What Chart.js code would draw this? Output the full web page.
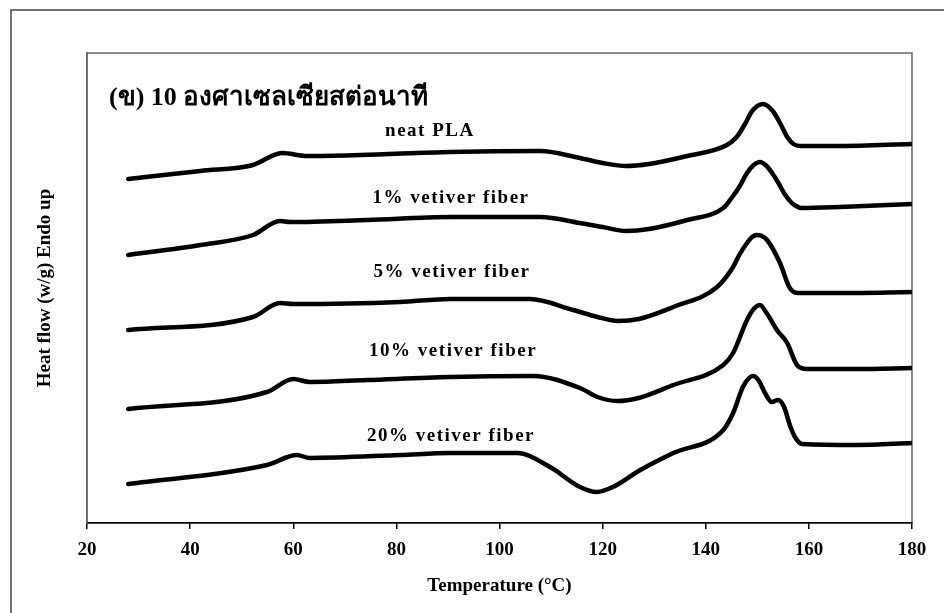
<!DOCTYPE html>
<html>
<head>
<meta charset="utf-8">
<script src="https://cdn.jsdelivr.net/npm/chart.js@4.4.1/dist/chart.umd.min.js"></script>
<style>
  html, body { margin: 0; padding: 0; background: #fff; overflow: hidden; }
  #wrap { position: relative; width: 944px; height: 613px; }
</style>
</head>
<body>
<div id="wrap"><canvas id="dsc" width="944" height="613"></canvas></div>
<script>
// DSC heating scans at 10 °C/min, curves stacked (heat flow in arbitrary offset units)
const tNeat  = [28, 42, 52.2, 57.8, 62.7, 73, 90.4, 107.9, 115.6, 120, 124.5, 129, 136.4, 144.1, 146, 147.5, 149, 151.1, 153, 154.5, 155.8, 157, 158.3, 166, 180];
const hfNeat = [34.4, 35.2, 35.8, 37.0, 36.7, 36.8, 37.1, 37.2, 36.5, 36.0, 35.7, 35.9, 36.7, 37.8, 38.6, 39.8, 41.2, 41.9, 41.2, 39.9, 38.6, 37.9, 37.7, 37.7, 37.9];

const t1  = [28, 42, 52.2, 57.4, 59.4, 74.3, 90.4, 107.9, 115.6, 120, 124.5, 129, 136.4, 143.4, 145, 146.5, 148, 149.3, 150.5, 151.8, 153, 154.2, 155.3, 156.5, 157.5, 158.5, 166, 180];
const hf1 = [26.8, 27.8, 28.8, 30.2, 30.1, 30.3, 30.6, 30.6, 30.0, 29.6, 29.2, 29.4, 30.3, 31.5, 32.5, 33.6, 35.0, 35.8, 36.1, 35.7, 34.9, 33.9, 32.9, 32.1, 31.7, 31.5, 31.6, 31.9];

const t5  = [28, 52.2, 57.4, 60, 80.7, 90.4, 105.9, 114.3, 119, 123, 127, 133.7, 142.2, 145.3, 146.5, 148, 149, 149.9, 150.9, 151.9, 154.4, 156.3, 157.9, 166, 180];
const hf5 = [19.3, 20.6, 22.0, 21.9, 22.1, 22.4, 22.4, 21.3, 20.6, 20.2, 20.4, 21.6, 23.6, 25.6, 26.8, 28.0, 28.6, 28.8, 28.7, 28.3, 26.0, 23.5, 23.0, 23.0, 23.1];

const t10  = [28, 54.9, 60, 63.2, 74.3, 90.4, 106.5, 115.6, 119, 122.8, 127, 133.7, 143.4, 145.3, 148, 149.3, 150.5, 151.8, 153.8, 155.8, 157.7, 159.6, 169.3, 180];
const hf10 = [11.4, 13.1, 14.4, 14.1, 14.3, 14.6, 14.7, 13.5, 12.6, 12.2, 12.5, 13.8, 15.8, 17.0, 20.3, 21.4, 21.8, 21.0, 19.3, 18.0, 15.8, 15.4, 15.4, 15.5];

const t20  = [28, 54.9, 60.7, 63.2, 80.7, 90.4, 103.4, 109.8, 115.6, 118.9, 122, 127.3, 133.7, 143.4, 145.3, 147.2, 148.4, 149.2, 150.2, 151.5, 152.8, 154, 155.2, 156.3, 157.3, 158.7, 169.3, 180];
const hf20 = [3.9, 5.8, 6.8, 6.5, 6.8, 7.0, 7.0, 5.6, 3.6, 3.1, 3.6, 5.3, 7.0, 9.3, 11.0, 13.6, 14.5, 14.7, 14.3, 13.0, 12.1, 12.3, 11.6, 9.8, 8.6, 7.9, 7.8, 8.0];

const curveNames = ['neat PLA', '1% vetiver fiber', '5% vetiver fiber', '10% vetiver fiber', '20% vetiver fiber'];
const xTicks = [20, 40, 60, 80, 100, 120, 140, 160, 180];
const panelTitle = '(ข) 10 องศาเซลเซียสต่อนาที';

const serif = '"Liberation Serif", "Times New Roman", serif';
const series = [[tNeat, hfNeat], [t1, hf1], [t5, hf5], [t10, hf10], [t20, hf20]];

const datasets = series.map(([t, hf], i) => ({
    label: curveNames[i],
    data: t.map((x, j) => ({ x: x, y: hf[j] })),
    borderColor: '#000',
    borderWidth: 4.5,
    borderCapStyle: 'round',
    borderJoinStyle: 'round',
    pointRadius: 0,
    cubicInterpolationMode: 'monotone',
    fill: false
}));

// frame, panel title and the curve captions
const decorations = {
    id: 'decorations',
    beforeDraw(chart) {
        const { ctx, chartArea: a } = chart;
        ctx.save();
        ctx.strokeStyle = '#444';
        ctx.lineWidth = 1.5;
        ctx.strokeRect(11, 10, 1000, 1000);
        ctx.strokeStyle = '#666';
        ctx.strokeRect(a.left, a.top, a.right - a.left, a.bottom - a.top);
        ctx.restore();
    },
    afterDatasetsDraw(chart) {
        const { ctx, chartArea: a } = chart;
        const xs = chart.scales.x, ys = chart.scales.y;
        // caption anchors: temperature, heat flow
        const captionT = [86.5, 90.6, 90.8, 91, 90.6];
        const captionHF = [39.2, 32.5, 25.1, 17.2, 8.7];
        ctx.save();
        ctx.fillStyle = '#000';
        ctx.textAlign = 'center';
        ctx.textBaseline = 'middle';
        ctx.font = 'bold 19px ' + serif;
        ctx.letterSpacing = '1.5px';
        curveNames.forEach((name, i) => {
            ctx.fillText(name, xs.getPixelForValue(captionT[i]), ys.getPixelForValue(captionHF[i]));
        });
        ctx.letterSpacing = '0px';
        ctx.textAlign = 'left';
        ctx.font = 'bold 26px ' + serif;
        ctx.fillText(panelTitle, a.left + 22, a.top + 45);
        ctx.restore();
    }
};

new Chart(document.getElementById('dsc'), {
    type: 'line',
    data: { datasets: datasets },
    options: {
        responsive: false,
        animation: false,
        layout: { padding: { left: 0, right: 32, top: 53, bottom: 0 } },
        plugins: { legend: { display: false }, tooltip: { enabled: false } },
        scales: {
            x: {
                type: 'linear',
                min: 20,
                max: 180,
                afterBuildTicks: (s) => { s.ticks = xTicks.map(v => ({ value: v })); },
                afterFit: (s) => { s.height = 90; },
                grid: { drawOnChartArea: false, drawTicks: true, tickLength: 6, color: '#000', lineWidth: 1.5 },
                border: { display: true, color: '#000', width: 1.5 },
                ticks: { color: '#000', padding: 10, maxRotation: 0, autoSkip: false,
                         font: { family: serif, size: 19, weight: 'bold' } },
                title: { display: true, text: 'Temperature (°C)', color: '#000',
                         font: { family: serif, size: 19, weight: 'bold' }, padding: { top: 0, bottom: 16 } }
            },
            y: {
                min: 0,
                max: 47,
                afterFit: (s) => { s.width = 87; },
                ticks: { display: false },
                grid: { display: false, drawTicks: false },
                border: { display: true, color: '#666', width: 1.5 },
                title: { display: true, text: 'Heat flow (w/g) Endo up', color: '#000',
                         font: { family: serif, size: 19, weight: 'bold' }, padding: { top: 34, bottom: 0 } }
            }
        }
    },
    plugins: [decorations]
});
</script>
</body>
</html>
